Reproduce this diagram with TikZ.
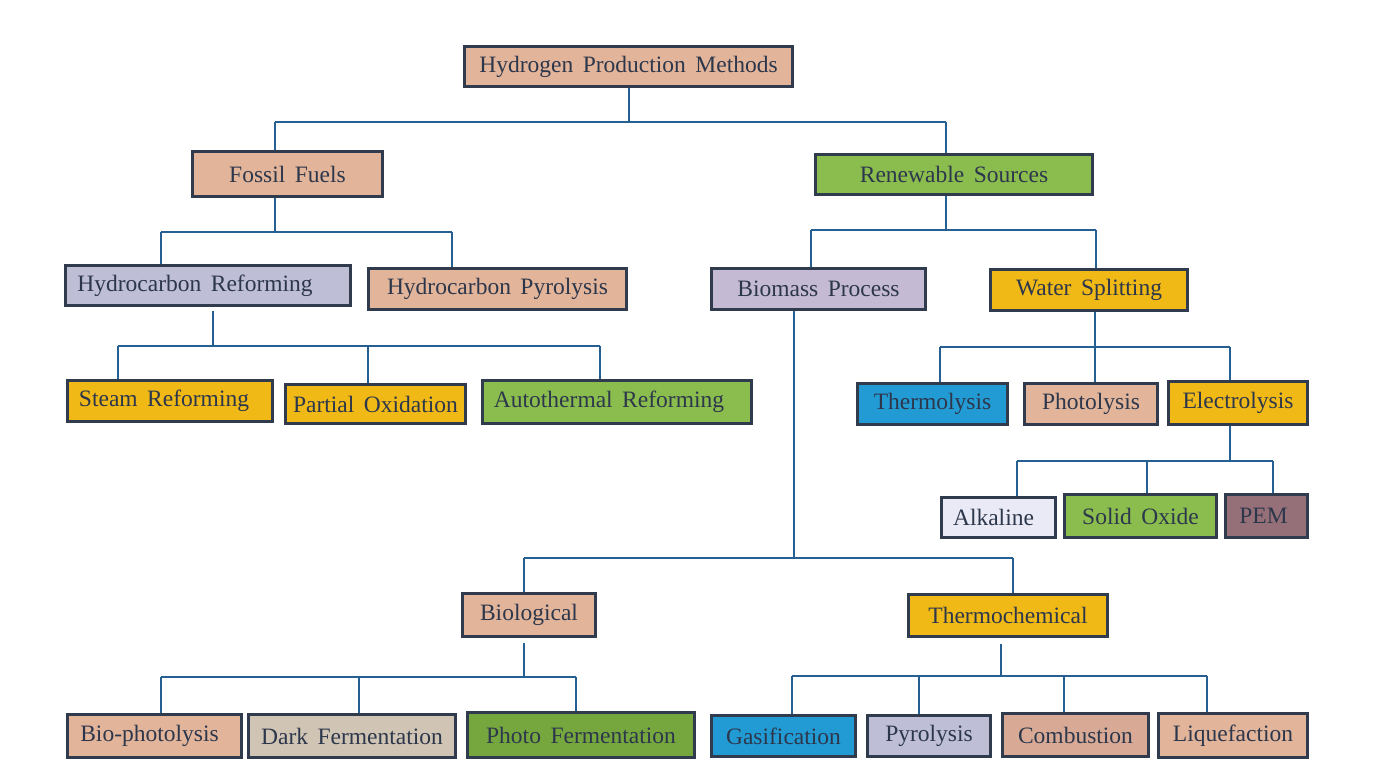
\documentclass[tikz,border=0pt]{standalone}
\usepackage{fontspec}
\setmainfont{Liberation Serif}
\definecolor{cpeach}{RGB}{226,180,154}
\definecolor{clav}{RGB}{190,190,214}
\definecolor{cgold}{RGB}{240,185,22}
\definecolor{cgreen}{RGB}{139,189,78}
\definecolor{cblue}{RGB}{34,155,212}
\definecolor{cmauve}{RGB}{150,112,120}
\definecolor{cpale}{RGB}{234,234,246}
\definecolor{ctan}{RGB}{208,196,180}
\definecolor{cdgreen}{RGB}{118,166,62}
\definecolor{cbiom}{RGB}{196,186,212}
\definecolor{ccomb}{RGB}{216,170,150}
\definecolor{cborder}{RGB}{48,60,78}
\definecolor{ctext}{RGB}{45,55,75}
\definecolor{cline}{RGB}{38,96,146}
\newcommand{\mybox}[7]{%
  \node[box, fill=#6, minimum width={(#4-#2-3)*1pt}, minimum height={(#5-#3-3)*1pt}]
    (#1) at ({(#2+#4)/2},{(#3+#5)/2}) {\raisebox{-1.5pt}{#7}};}
\begin{document}
\begin{tikzpicture}[x=1pt,y=-1pt,
  box/.style={draw=cborder, line width=3pt, inner sep=0pt, text=ctext,
    font={\fontsize{23.5}{28}\selectfont\spaceskip=9.5pt\relax}},
  conn/.style={draw=cline, line width=2.5pt}]
\useasboundingbox[fill=white] (0,0) rectangle (1400,775);
% boxes
\mybox{hpm}{463}{45}{794}{88}{cpeach}{Hydrogen Production Methods}
\mybox{ff}{191}{150}{384}{198}{cpeach}{Fossil Fuels}
\mybox{rs}{814}{153}{1094}{196}{cgreen}{Renewable Sources}
\mybox{hr}{64}{264}{352}{307}{clav}{Hydrocarbon Reforming\hspace{26pt}}
\mybox{hp}{367}{267}{628}{311}{cpeach}{Hydrocarbon Pyrolysis}
\mybox{sr}{66}{379}{274}{423}{cgold}{Steam Reforming\hspace{12pt}}
\mybox{po}{284}{383}{467}{425}{cgold}{Partial Oxidation}
\mybox{ar}{481}{379}{753}{425}{cgreen}{Autothermal Reforming\hspace{16pt}}
\mybox{bp}{710}{267}{927}{311}{cbiom}{Biomass Process}
\mybox{ws}{989}{268}{1189}{312}{cgold}{Water Splitting}
\mybox{th}{856}{382}{1009}{426}{cblue}{Thermolysis}
\mybox{ph}{1023}{382}{1159}{426}{cpeach}{Photolysis}
\mybox{el}{1167}{380}{1309}{426}{cgold}{Electrolysis}
\mybox{al}{940}{496}{1057}{539}{cpale}{Alkaline\hspace{10pt}}
\mybox{so}{1063}{493}{1218}{539}{cgreen}{Solid Oxide}
\mybox{pem}{1224}{493}{1309}{539}{cmauve}{PEM\hspace{6pt}}
\mybox{bio}{461}{592}{597}{638}{cpeach}{Biological}
\mybox{tc}{907}{593}{1109}{638}{cgold}{Thermochemical}
\mybox{bph}{66}{713}{243}{759}{cpeach}{Bio-photolysis\hspace{10pt}}
\mybox{df}{247}{713}{457}{759}{ctan}{Dark Fermentation}
\mybox{pf}{466}{711}{696}{759}{cdgreen}{Photo Fermentation}
\mybox{gas}{710}{714}{857}{758}{cblue}{Gasification}
\mybox{pyr}{866}{714}{992}{758}{clav}{Pyrolysis}
\mybox{com}{1001}{712}{1150}{758}{ccomb}{Combustion}
\mybox{liq}{1157}{712}{1309}{759}{cpeach}{Liquefaction}
% bus coordinates
\coordinate (s0) at (629,122);
\coordinate (s0l) at (275,122); \coordinate (s0r) at (946,122);
\coordinate (s1) at (275,232);
\coordinate (s1l) at (161,232); \coordinate (s1r) at (452,232);
\coordinate (s2) at (213,346);
\coordinate (s2a) at (118,346); \coordinate (s2b) at (368,346); \coordinate (s2c) at (600,346);
\coordinate (s3) at (946,230);
\coordinate (s3l) at (811,230); \coordinate (s3r) at (1096,230);
\coordinate (s4) at (1095,347);
\coordinate (s4a) at (940,347); \coordinate (s4c) at (1230,347);
\coordinate (s5) at (1230,461);
\coordinate (s5a) at (1017,461); \coordinate (s5b) at (1147,461); \coordinate (s5c) at (1273,461);
\coordinate (s6) at (794,558);
\coordinate (s6l) at (524,558); \coordinate (s6r) at (1013,558);
\coordinate (s7) at (524,677);
\coordinate (s7a) at (161,677); \coordinate (s7b) at (359,677); \coordinate (s7c) at (576,677);
\coordinate (s8) at (1001,676);
\coordinate (s8a) at (792,676); \coordinate (s8b) at (919,676); \coordinate (s8c) at (1064,676); \coordinate (s8d) at (1207,676);
% connectors
\draw[conn] (s0 |- hpm.south) -- (s0);
\draw[conn] (s0l) -- (s0r);
\draw[conn] (s0l) -- (s0l |- ff.north);
\draw[conn] (s0r) -- (s0r |- rs.north);
\draw[conn] (s1 |- ff.south) -- (s1);
\draw[conn] (s1l) -- (s1r);
\draw[conn] (s1l) -- (s1l |- hr.north);
\draw[conn] (s1r) -- (s1r |- hp.north);
\draw[conn, shorten <=4pt] (s2 |- hr.south) -- (s2);
\draw[conn] (s2a) -- (s2c);
\draw[conn] (s2a) -- (s2a |- sr.north);
\draw[conn] (s2b) -- (s2b |- po.north);
\draw[conn] (s2c) -- (s2c |- ar.north);
\draw[conn] (s3 |- rs.south) -- (s3);
\draw[conn] (s3l) -- (s3r);
\draw[conn] (s3l) -- (s3l |- bp.north);
\draw[conn] (s3r) -- (s3r |- ws.north);
\draw[conn] (s4 |- ws.south) -- (s4);
\draw[conn] (s4a) -- (s4c);
\draw[conn] (s4a) -- (s4a |- th.north);
\draw[conn] (s4) -- (s4 |- ph.north);
\draw[conn] (s4c) -- (s4c |- el.north);
\draw[conn] (s5 |- el.south) -- (s5);
\draw[conn] (s5a) -- (s5c);
\draw[conn] (s5a) -- (s5a |- al.north);
\draw[conn] (s5b) -- (s5b |- so.north);
\draw[conn] (s5c) -- (s5c |- pem.north);
\draw[conn] (s6 |- bp.south) -- (s6);
\draw[conn] (s6l) -- (s6r);
\draw[conn] (s6l) -- (s6l |- bio.north);
\draw[conn] (s6r) -- (s6r |- tc.north);
\draw[conn, shorten <=5pt] (s7 |- bio.south) -- (s7);
\draw[conn] (s7a) -- (s7c);
\draw[conn] (s7a) -- (s7a |- bph.north);
\draw[conn] (s7b) -- (s7b |- df.north);
\draw[conn] (s7c) -- (s7c |- pf.north);
\draw[conn, shorten <=6pt] (s8 |- tc.south) -- (s8);
\draw[conn] (s8a) -- (s8d);
\draw[conn] (s8a) -- (s8a |- gas.north);
\draw[conn] (s8b) -- (s8b |- pyr.north);
\draw[conn] (s8c) -- (s8c |- com.north);
\draw[conn] (s8d) -- (s8d |- liq.north);
\end{tikzpicture}
\end{document}
